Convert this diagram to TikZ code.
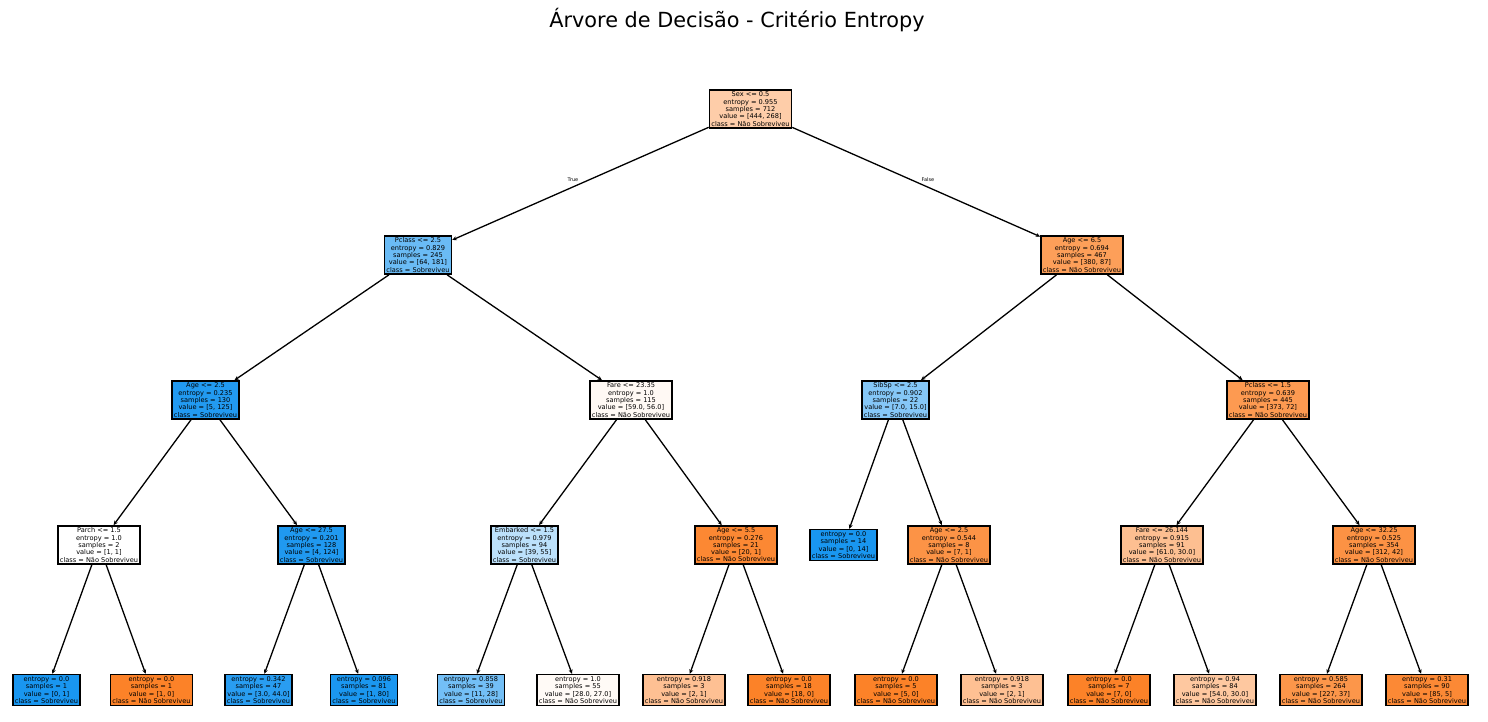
\documentclass[tikz,border=0pt]{standalone}
\usepackage{fontspec}
\setmainfont{DejaVu Sans}
\usetikzlibrary{arrows.meta}
\definecolor{orng}{RGB}{252,130,40}
\definecolor{blu}{RGB}{25,150,240}
\tikzset{
  tnode/.style={draw=black,line width=1.4pt,align=center,inner xsep=2pt,inner ysep=2pt,
    font=\fontsize{6.6}{7.3}\selectfont},
  tedge/.style={line width=1.3pt,-{Stealth[length=4.5pt,width=4pt]}},
  elabel/.style={font=\fontsize{5}{6}\selectfont}
}
\begin{document}
\begin{tikzpicture}[x=1pt,y=-1pt]
\useasboundingbox (0,0) rectangle (1488,721);
\node[font=\fontsize{20.8}{24}\selectfont] (title) at (737,20) {Árvore de Decisão - Critério Entropy};
% nivel 0 e 1
\node[tnode,fill=orng!40!white] (n0) at (750.5,109) {Sex <= 0.5\\entropy = 0.955\\samples = 712\\value = [444, 268]\\class = Não Sobreviveu};
\node[tnode,fill=blu!65!white] (n1) at (418,255) {Pclass <= 2.5\\entropy = 0.829\\samples = 245\\value = [64, 181]\\class = Sobreviveu};
\node[tnode,fill=orng!77!white] (n2) at (1082,255) {Age <= 6.5\\entropy = 0.694\\samples = 467\\value = [380, 87]\\class = Não Sobreviveu};
% nivel 2
\node[tnode,fill=blu!96!white] (n3) at (205.5,400) {Age <= 2.5\\entropy = 0.235\\samples = 130\\value = [5, 125]\\class = Sobreviveu};
\node[tnode,fill=orng!5!white] (n4) at (631,400) {Fare <= 23.35\\entropy = 1.0\\samples = 115\\value = [59.0, 56.0]\\class = Não Sobreviveu};
\node[tnode,fill=blu!53!white] (n5) at (895.5,400) {SibSp <= 2.5\\entropy = 0.902\\samples = 22\\value = [7.0, 15.0]\\class = Sobreviveu};
\node[tnode,fill=orng!81!white] (n6) at (1268,400) {Pclass <= 1.5\\entropy = 0.639\\samples = 445\\value = [373, 72]\\class = Não Sobreviveu};
% nivel 3
\node[tnode,fill=white] (n7) at (99,545) {Parch <= 1.5\\entropy = 1.0\\samples = 2\\value = [1, 1]\\class = Não Sobreviveu};
\node[tnode,fill=blu!97!white] (n8) at (311.5,545) {Age <= 27.5\\entropy = 0.201\\samples = 128\\value = [4, 124]\\class = Sobreviveu};
\node[tnode,fill=blu!29!white] (n9) at (524.5,545) {Embarked <= 1.5\\entropy = 0.979\\samples = 94\\value = [39, 55]\\class = Sobreviveu};
\node[tnode,fill=orng!95!white] (n10) at (736,545) {Age <= 5.5\\entropy = 0.276\\samples = 21\\value = [20, 1]\\class = Não Sobreviveu};
\node[tnode,fill=blu] (n11) at (843.5,545) {entropy = 0.0\\samples = 14\\value = [0, 14]\\class = Sobreviveu};
\node[tnode,fill=orng!86!white] (n12) at (949,545) {Age <= 2.5\\entropy = 0.544\\samples = 8\\value = [7, 1]\\class = Não Sobreviveu};
\node[tnode,fill=orng!51!white] (n13) at (1162,545) {Fare <= 26.144\\entropy = 0.915\\samples = 91\\value = [61.0, 30.0]\\class = Não Sobreviveu};
\node[tnode,fill=orng!87!white] (n14) at (1374,545) {Age <= 32.25\\entropy = 0.525\\samples = 354\\value = [312, 42]\\class = Não Sobreviveu};
% folhas
\node[tnode,fill=blu] (f1) at (46.5,690) {entropy = 0.0\\samples = 1\\value = [0, 1]\\class = Sobreviveu};
\node[tnode,fill=orng] (f2) at (151.5,690) {entropy = 0.0\\samples = 1\\value = [1, 0]\\class = Não Sobreviveu};
\node[tnode,fill=blu!93!white] (f3) at (258.5,690) {entropy = 0.342\\samples = 47\\value = [3.0, 44.0]\\class = Sobreviveu};
\node[tnode,fill=blu!99!white] (f4) at (364,690) {entropy = 0.096\\samples = 81\\value = [1, 80]\\class = Sobreviveu};
\node[tnode,fill=blu!61!white] (f5) at (471,690) {entropy = 0.858\\samples = 39\\value = [11, 28]\\class = Sobreviveu};
\node[tnode,fill=orng!4!white] (f6) at (578,690) {entropy = 1.0\\samples = 55\\value = [28.0, 27.0]\\class = Não Sobreviveu};
\node[tnode,fill=orng!50!white] (f7) at (684,690) {entropy = 0.918\\samples = 3\\value = [2, 1]\\class = Não Sobreviveu};
\node[tnode,fill=orng] (f8) at (789,690) {entropy = 0.0\\samples = 18\\value = [18, 0]\\class = Não Sobreviveu};
\node[tnode,fill=orng] (f9) at (896,690) {entropy = 0.0\\samples = 5\\value = [5, 0]\\class = Não Sobreviveu};
\node[tnode,fill=orng!50!white] (f10) at (1002,690) {entropy = 0.918\\samples = 3\\value = [2, 1]\\class = Não Sobreviveu};
\node[tnode,fill=orng] (f11) at (1109,690) {entropy = 0.0\\samples = 7\\value = [7, 0]\\class = Não Sobreviveu};
\node[tnode,fill=orng!44!white] (f12) at (1215,690) {entropy = 0.94\\samples = 84\\value = [54.0, 30.0]\\class = Não Sobreviveu};
\node[tnode,fill=orng!84!white] (f13) at (1321,690) {entropy = 0.585\\samples = 264\\value = [227, 37]\\class = Não Sobreviveu};
\node[tnode,fill=orng!94!white] (f14) at (1427,690) {entropy = 0.31\\samples = 90\\value = [85, 5]\\class = Não Sobreviveu};
% arestas
\foreach \p/\c in {n0/n1,n0/n2,n1/n3,n1/n4,n2/n5,n2/n6,n3/n7,n3/n8,n4/n9,n4/n10,n5/n11,n5/n12,n6/n13,n6/n14,
  n7/f1,n7/f2,n8/f3,n8/f4,n9/f5,n9/f6,n10/f7,n10/f8,n12/f9,n12/f10,n13/f11,n13/f12,n14/f13,n14/f14}
  \draw[tedge] (\p) -- (\c);
\node[elabel] (ltrue) at (573,180) {True};
\node[elabel] (lfalse) at (928,180) {False};
\end{tikzpicture}
\end{document}
